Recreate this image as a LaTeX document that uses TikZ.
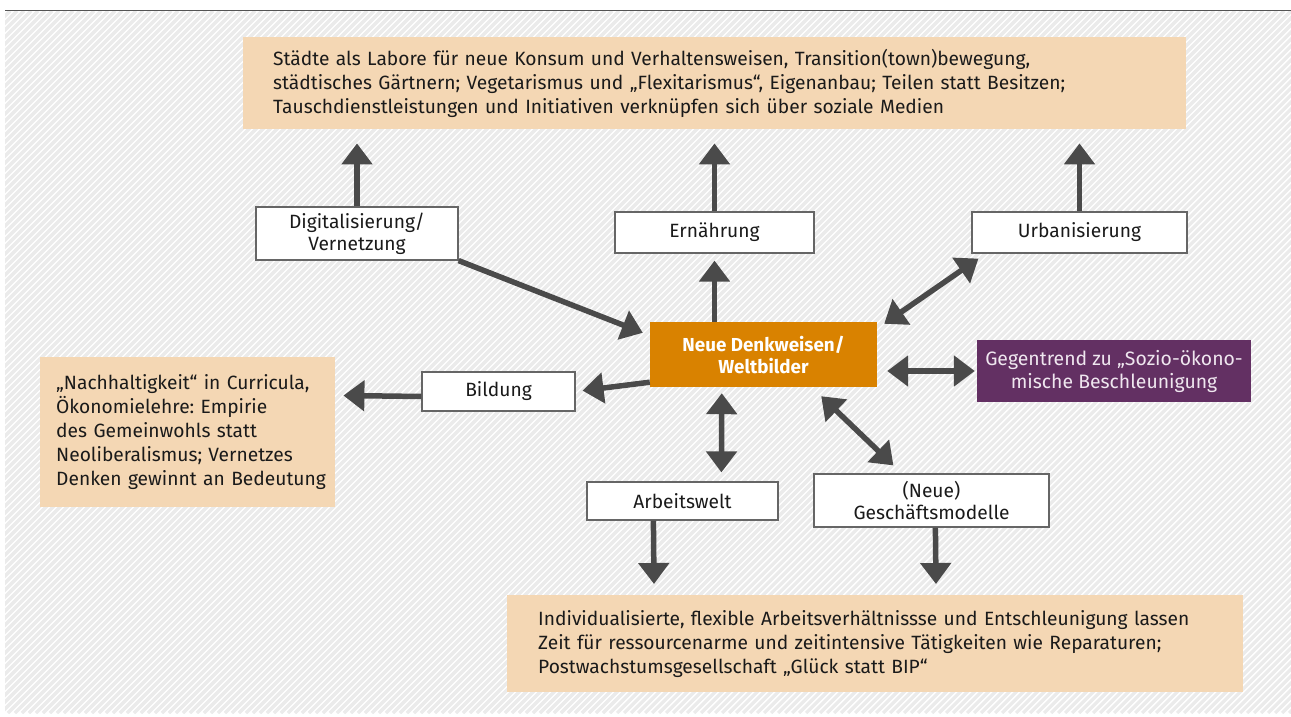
\documentclass[tikz,border=0pt]{standalone}
\usepackage{fontspec}
\setmainfont{Fira Sans}
\usetikzlibrary{arrows.meta,calc}
\definecolor{peach}{HTML}{F4D7B4}
\definecolor{orangebox}{HTML}{D98200}
\definecolor{purplebox}{HTML}{633063}
\definecolor{arrowgray}{HTML}{4A4A4A}
\definecolor{hatchgray}{HTML}{EBEBEB}
\definecolor{txt}{HTML}{1A1A1A}
\definecolor{purtxt}{HTML}{EFE6EF}
\frenchspacing
\tikzset{
  every node/.style={font=\fontsize{19.2}{22}\selectfont, text=txt},
  whitebox/.style={draw=black!60, line width=1.2pt, fill=white, align=center, inner sep=0pt},
  peachbox/.style={fill=peach, align=left, anchor=north west, inner ysep=0pt, font=\fontsize{19.2}{24}\selectfont},
  arr/.style={draw=arrowgray, line width=5.5pt, -{Triangle[length=21pt,width=30pt]}},
  darr/.style={draw=arrowgray, line width=5.5pt, {Triangle[length=21pt,width=30pt]}-{Triangle[length=21pt,width=30pt]}},
  hatch/.style={draw=hatchgray, line width=3.2pt}
}
\begin{document}
\frenchspacing
\begin{tikzpicture}[x=1pt,y=-1pt]
\useasboundingbox (0,0) rectangle (1291,717);
\fill[white] (0,0) rectangle (1291,717);
\begin{scope}
\clip (5,11) rectangle (1291,713);
\foreach \i in {-720,-713,...,1300} \draw[hatch] (\i,713) -- ++(702,-702);
\end{scope}
\draw[draw=black!67, line width=1.5pt] (5,10.5) -- (1291,10.5);

% peach boxes
\node[peachbox, inner xsep=30pt, text width=883pt, minimum height=92pt] (top) at (243,37)
 {\mbox{Städte als Labore für neue Konsum und Verhaltensweisen, Transition(town)bewegung,}\\
  \mbox{städtisches Gärtnern; Vegetarismus und „Flexitarismus“, Eigenanbau; Teilen statt Besitzen;}\\
  \mbox{Tauschdienstleistungen und Initiativen verknüpfen sich über soziale Medien}};
\node[peachbox, inner xsep=16pt, text width=263pt, minimum height=150pt] (left) at (40,357)
 {\mbox{„Nachhaltigkeit“ in Curricula,}\\
  \mbox{Ökonomielehre: Empirie}\\
  \mbox{des Gemeinwohls statt}\\
  \mbox{Neoliberalismus; Vernetzes}\\
  \mbox{Denken gewinnt an Bedeutung}};
\node[peachbox, inner xsep=31pt, text width=674pt, minimum height=97pt] (bot) at (507,595)
 {\mbox{Individualisierte, flexible Arbeitsverhältnissse und Entschleunigung lassen}\\
  \mbox{Zeit für ressourcenarme und zeitintensive Tätigkeiten wie Reparaturen;}\\
  \mbox{Postwachstumsgesellschaft „Glück statt BIP“}};

% white boxes
\node[whitebox, minimum width=202pt, minimum height=53pt] (dig) at (357,233.5) {Digitalisierung/\\Vernetzung};
\node[whitebox, minimum width=199pt, minimum height=41pt] (ern) at (714.5,232.5) {Ernährung};
\node[whitebox, minimum width=215pt, minimum height=41pt] (urb) at (1079.5,232.5) {Urbanisierung};
\node[whitebox, minimum width=153pt, minimum height=39pt] (bil) at (498.5,391.5) {Bildung};
\node[whitebox, minimum width=191pt, minimum height=38pt] (arb) at (682.5,501) {Arbeitswelt};
\node[whitebox, minimum width=235pt, minimum height=53pt] (ges) at (931.5,500.5) {(Neue)\\Geschäftsmodelle};

% center and purple
\node[fill=orangebox, minimum width=227pt, minimum height=65pt, inner sep=0pt, align=center,
      text=white, font=\fontsize{18.8}{22}\selectfont\bfseries] (cen) at (763.5,354.5) {Neue Denkweisen/\\Weltbilder};
\node[fill=purplebox, minimum width=274pt, minimum height=62pt, inner sep=0pt, align=center,
      text=purtxt, font=\fontsize{19.4}{23}\selectfont] (pur) at (1114,371) {Gegentrend zu „Sozio-ökono-\\mische Beschleunigung};

% connectors
\draw[arr, shorten >=14pt] (dig.north) -- (dig.north |- top.south);
\draw[arr, shorten >=14pt] (ern.north) -- (ern.north |- top.south);
\draw[arr, shorten >=14pt] (urb.north) -- (urb.north |- top.south);
\draw[arr] (dig.south east) -- ($(cen.north west)+(-7,11)$);
\draw[arr, shorten >=7pt] (ern.south |- cen.north) -- (ern.south);
\draw[darr] ($(cen.north east)+(7,2)$) -- ($(urb.south west)+(7,5)$);
\draw[darr, shorten >=2pt] ($(cen.east |- pur.west)+(10,0)$) -- (pur.west);
\draw[arr, shorten >=7pt] ($(cen.south west)+(0,-5)$) -- (bil.east);
\draw[arr] ($(bil.west)+(0,5)$) -- ($(bil.west -| left.east)+(8,4)$);
\draw[darr] ($(cen.south west)+(72,6)$) -- ($(arb.north west)+(135,-9)$);
\draw[darr] ($(cen.south east)+(-56,9)$) -- ($(ges.north west)+(80,-8)$);
\draw[arr] ($(arb.south west)+(67,0)$) -- ($(bot.north west)+(147,-11)$);
\draw[arr] ($(ges.south west)+(122,0)$) -- ($(bot.north west)+(429,-11)$);
\end{tikzpicture}
\end{document}
